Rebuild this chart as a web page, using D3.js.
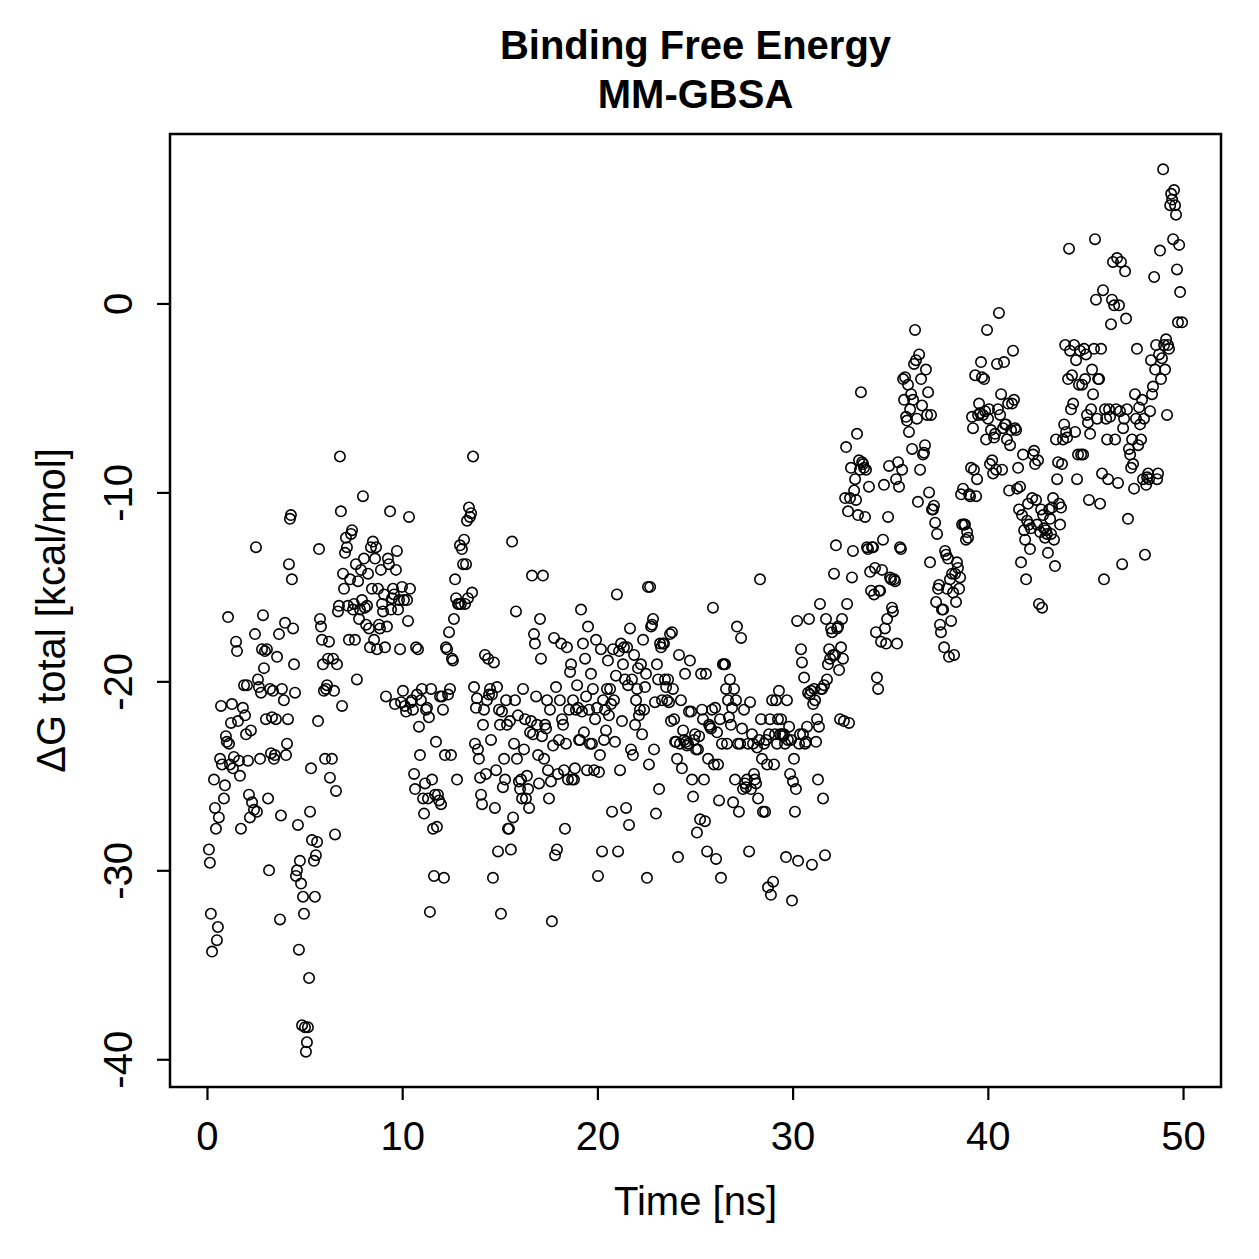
<!DOCTYPE html>
<html>
<head>
<meta charset="utf-8">
<script src="https://cdn.jsdelivr.net/npm/d3@7"></script>
<style>
  body { margin: 0; background: #fff; }
  text { font-family: "Liberation Sans", Arial, Helvetica, sans-serif; }
</style>
</head>
<body>
<div id="chart"></div>
<script>
const titleLines = ["Binding Free Energy", "MM-GBSA"];
const xLabel = "Time [ns]";
const yLabel = "\u0394G total [kcal/mol]";
const xTicks = [0, 10, 20, 30, 40, 50];
const yTicks = [0, -10, -20, -30, -40];

// simulation time (ns)
const time = [
  0.10,0.15,0.20,0.26,
  0.36,0.41,0.46,0.51,0.56,0.61,0.67,0.72,0.77,
  0.87,0.92,0.97,1.02,1.08,1.13,1.18,1.23,1.28,1.33,1.38,
  1.49,1.54,1.59,1.64,1.69,1.74,
  1.84,1.90,1.95,2.00,2.05,2.10,2.15,2.20,2.25,2.31,
  2.41,2.46,2.51,2.56,2.61,2.66,2.72,2.77,2.82,2.87,2.92,2.97,3.02,3.07,3.13,3.18,3.23,3.28,3.33,3.38,3.43,3.48,3.53,3.59,
  3.69,3.74,3.79,3.84,
  3.94,4.00,4.05,4.10,4.15,4.20,4.25,4.30,4.35,4.41,4.46,4.51,4.56,4.61,4.66,4.71,4.76,4.82,4.87,4.92,4.97,5.02,5.07,5.12,5.17,5.23,5.28,5.33,5.38,
  5.48,5.53,5.58,5.64,5.69,5.74,5.79,5.84,5.89,5.94,5.99,6.05,6.10,6.15,6.20,6.25,6.30,
  6.40,
  6.46,6.51,6.56,6.61,
  6.66,6.71,6.76,6.81,6.86,6.92,6.97,7.02,7.07,7.12,
  7.17,7.22,7.27,7.33,7.38,7.43,7.48,7.53,7.58,7.63,
  7.68,7.74,7.79,7.84,7.89,7.94,7.99,8.04,8.09,8.15,
  8.20,8.25,8.30,8.35,8.40,8.45,8.50,8.56,8.61,8.66,
  8.71,8.76,8.81,8.86,8.91,8.97,9.02,9.07,9.12,9.17,
  9.22,9.27,9.32,9.38,9.43,9.48,9.53,9.58,9.63,9.68,
  9.73,9.79,9.84,9.89,9.94,9.99,10.04,10.09,10.14,10.20,
  10.25,10.30,10.35,10.40,10.45,10.50,10.55,10.61,10.66,10.71,
  10.76,10.81,10.86,10.91,10.96,11.01,11.07,11.12,11.17,11.22,
  11.27,11.32,11.37,11.42,11.48,11.53,11.58,11.63,11.68,11.73,
  11.78,11.83,11.89,11.94,11.99,12.04,12.09,12.14,12.19,12.24,
  12.30,12.35,12.40,12.45,12.50,12.55,12.60,12.65,12.71,12.76,
  12.81,12.86,12.91,12.96,13.01,13.06,13.12,13.17,13.22,13.27,
  13.32,13.37,13.42,13.47,13.53,13.58,13.63,13.68,13.73,13.78,
  13.83,13.88,13.93,13.99,14.04,14.09,14.14,14.19,14.24,14.29,
  14.34,14.40,14.45,14.50,14.55,14.60,14.65,14.70,14.75,14.81,
  14.86,14.91,14.96,15.01,15.06,15.11,15.16,15.22,15.27,15.32,
  15.37,15.42,15.47,15.52,15.57,15.63,15.68,15.73,15.78,15.83,
  15.88,15.93,15.98,16.04,16.09,16.14,16.19,16.24,16.29,16.34,
  16.39,16.45,16.50,16.55,16.60,16.65,16.70,16.75,16.80,16.86,
  16.91,16.96,17.01,17.06,17.11,17.16,17.21,17.27,17.32,17.37,
  17.42,17.47,17.52,17.57,17.62,17.67,17.73,17.78,17.83,17.88,
  17.93,17.98,18.03,18.08,18.14,18.19,18.24,18.29,18.34,18.39,
  18.44,18.49,18.55,18.60,18.65,18.70,18.75,18.80,18.85,18.90,
  18.96,19.01,19.06,19.11,19.16,19.21,19.26,19.31,19.37,19.42,
  19.47,19.52,19.57,19.62,19.67,19.72,19.77,19.83,19.88,19.93,
  19.98,20.03,20.08,20.13,20.18,20.24,20.29,20.34,20.39,20.44,
  20.49,20.54,20.59,20.65,20.70,20.75,20.80,20.85,20.90,20.95,
  21.00,21.06,21.11,21.16,21.21,21.26,21.31,21.36,21.41,21.47,
  21.52,21.57,21.62,21.67,21.72,21.77,21.82,21.88,21.93,21.98,
  22.03,22.08,22.13,22.18,22.23,22.29,22.34,22.39,22.44,22.49,
  22.54,22.59,22.64,22.70,22.75,22.80,22.85,22.90,22.95,23.00,
  23.05,23.11,23.16,23.21,23.26,23.31,23.36,23.41,23.46,23.52,
  23.57,23.62,23.67,23.72,23.77,23.82,23.87,23.93,23.98,24.03,
  24.08,24.13,24.18,24.23,24.28,24.33,24.39,24.44,24.49,24.54,
  24.59,24.64,24.69,24.74,24.80,24.85,24.90,24.95,25.00,25.05,
  25.10,25.15,25.21,25.26,25.31,25.36,25.41,25.46,25.51,25.56,
  25.62,25.67,25.72,25.77,25.82,25.87,25.92,25.97,26.03,26.08,
  26.13,26.18,26.23,26.28,26.33,26.38,26.43,26.49,26.54,26.59,
  26.64,26.69,26.74,26.79,26.84,26.90,26.95,27.00,27.05,27.10,
  27.15,27.20,27.25,27.31,27.36,27.41,27.46,27.51,27.56,27.61,
  27.66,27.72,27.77,27.82,27.87,27.92,27.97,28.02,28.07,28.13,
  28.18,28.23,28.28,28.33,28.38,28.43,28.48,28.54,28.59,28.64,
  28.69,28.74,28.79,28.84,28.89,28.95,29.00,29.05,29.10,29.15,
  29.20,29.25,29.30,29.36,29.41,29.46,29.51,29.56,29.61,29.66,
  29.71,29.76,29.82,29.87,29.92,29.97,30.02,30.07,30.12,30.17,
  30.23,30.28,30.33,30.38,30.43,30.48,30.53,30.59,30.64,30.69,
  30.74,30.79,30.84,30.89,30.94,30.99,31.05,31.10,31.15,31.20,
  31.25,31.30,31.35,31.40,31.46,31.51,31.56,31.61,31.66,31.71,
  31.76,31.81,31.87,31.92,31.97,32.02,32.07,32.12,32.17,32.22,
  32.28,32.33,32.38,32.43,32.48,32.53,32.58,32.63,32.69,32.74,
  32.79,32.84,32.89,32.94,32.99,33.04,33.09,33.15,33.20,33.25,
  33.30,33.35,33.40,33.45,33.50,33.56,33.61,33.66,33.71,33.76,
  33.81,33.86,33.91,33.97,34.02,34.07,34.12,34.17,34.22,34.27,
  34.32,34.38,34.43,34.48,34.53,34.58,34.63,34.68,34.73,34.79,
  34.84,34.89,34.94,34.99,35.04,35.09,35.14,35.20,35.25,35.30,
  35.35,35.40,35.45,35.50,35.55,35.61,35.66,35.71,35.76,35.81,
  35.86,35.91,35.96,36.02,36.07,36.12,36.17,36.22,36.27,36.32,
  36.37,36.42,36.48,36.53,36.58,36.63,36.68,36.73,36.78,36.83,
  36.89,36.94,36.99,37.04,37.09,37.14,37.19,37.24,37.30,37.35,
  37.40,37.45,37.50,37.55,37.60,37.65,37.71,37.76,37.81,37.86,
  37.91,37.96,38.01,38.06,38.12,38.17,38.22,38.27,38.32,38.37,
  38.42,38.47,38.53,38.58,38.63,38.68,38.73,38.78,38.83,38.88,
  38.94,38.99,39.04,39.09,39.14,39.19,39.24,39.29,39.35,39.40,
  39.45,39.50,39.55,39.60,39.65,39.70,39.75,39.81,39.86,39.91,
  39.96,40.01,40.06,40.11,40.16,40.22,40.27,40.32,40.37,40.42,
  40.47,40.52,40.57,40.63,40.68,40.73,40.78,40.83,40.88,40.93,
  40.98,41.04,41.09,41.14,41.19,41.24,41.29,41.34,41.39,41.45,
  41.50,41.55,41.60,41.65,41.70,41.75,41.80,41.86,41.91,41.96,
  42.01,42.06,42.11,42.16,42.21,42.27,42.32,42.37,42.42,42.47,
  42.52,42.57,42.62,42.68,42.73,42.78,42.83,42.88,42.93,42.98,
  43.03,43.08,43.14,43.19,43.24,43.29,43.34,43.39,43.44,43.49,
  43.55,43.60,43.65,43.70,43.75,43.80,43.85,43.91,43.96,44.01,
  44.06,44.11,44.16,44.21,44.26,44.31,44.37,44.42,44.47,44.52,
  44.57,44.62,44.67,44.72,44.78,44.83,44.88,44.93,44.98,45.03,
  45.08,45.13,45.18,45.24,45.29,45.34,45.39,45.44,45.49,45.54,
  45.60,45.65,45.70,45.75,45.80,45.85,45.90,45.95,46.00,46.06,
  46.11,46.16,46.21,46.26,46.31,46.36,46.41,46.47,46.52,46.57,
  46.62,46.67,46.72,46.77,46.82,46.88,46.93,46.98,47.03,47.08,
  47.13,47.18,47.23,47.29,47.34,47.39,47.44,47.49,47.54,47.59,
  47.64,47.70,47.75,47.80,47.85,47.90,47.95,48.00,48.05,48.11,
  48.16,48.21,48.26,48.31,48.36,48.41,48.46,48.52,48.57,48.62,
  48.67,48.72,48.77,48.82,48.87,48.92,48.98,49.03,49.08,49.13,
  49.18,49.23,49.28,49.34,49.39,49.44,49.49,49.54,49.59,49.64,
  49.69,49.74,49.80,49.85,49.95
];

// total binding free energy (kcal/mol), same order as time
const dG = [
  -28.9,-29.6,-32.3,-34.3,
  -25.2,-26.7,-27.8,-33.7,-33.0,-27.2,-24.1,-21.3,-24.4,
  -26.2,-25.5,-22.9,-23.2,-16.6,-23.3,-24.4,-22.2,-21.2,-24.6,-24.0,
  -17.9,-18.4,-22.1,-24.2,-25.0,-27.8,
  -21.4,-20.2,-21.8,-22.8,-20.2,-24.2,-26.0,-27.2,-22.6,-26.4,
  -26.8,-17.5,-12.9,-26.9,-19.9,-20.3,-24.1,-20.6,-18.3,-16.5,-19.3,-18.4,-22.0,-18.3,-26.2,-30.0,-20.4,-23.8,-21.9,-20.5,-24.1,-23.9,-22.0,-18.7,
  -17.5,-32.6,-27.1,-20.4,
  -21.0,-16.9,-23.9,-23.3,-22.0,-13.8,-11.4,-11.2,-14.6,-17.2,-19.1,-20.6,-30.3,-30.0,-27.6,-34.2,-29.5,-30.7,-38.2,-31.4,-32.3,-38.3,-39.6,-39.1,-38.3,-35.7,-26.9,-24.6,-28.4,
  -29.5,-31.4,-29.2,-28.5,-22.1,-13.0,-16.7,-17.1,-17.8,-19.1,-20.5,-24.1,-20.4,-20.2,-18.8,-17.9,-25.1,
  -24.1,
  -18.8,-20.5,-28.1,-25.8,
  -19.1,-16.3,-16.0,-8.1,-11.0,-21.3,-14.3,-15.1,-13.2,-12.4,
  -12.9,-16.0,-17.8,-14.6,-12.2,-12.0,-16.2,-15.9,-17.8,-13.8,
  -19.9,-14.7,-16.7,-16.2,-14.1,-15.7,-10.2,-13.5,-16.1,-17.0,
  -16.0,-14.3,-17.2,-18.2,-12.9,-15.1,-12.6,-17.8,-13.5,-12.9,
  -18.3,-15.1,-17.0,-17.2,-14.1,-15.9,-16.3,-15.4,-18.2,-20.8,
  -17.1,-13.5,-13.8,-11.0,-16.2,-15.6,-15.1,-15.4,-21.2,-14.1,
  -13.1,-16.2,-15.7,-18.3,-21.1,-15.0,-20.5,-15.7,-21.3,-21.6,
  -15.7,-16.8,-11.3,-15.1,-21.1,-21.0,-21.5,-24.9,-25.7,-18.2,
  -20.7,-18.3,-22.4,-23.9,-21.0,-20.4,-26.2,-27.0,-25.4,-21.5,
  -21.4,-26.2,-21.9,-32.2,-20.4,-25.2,-27.8,-30.3,-26.0,-23.2,
  -27.7,-26.0,-26.3,-20.8,-26.5,-20.8,-21.5,-30.4,-23.9,-18.2,
  -18.3,-20.7,-17.4,-20.4,-23.9,-18.8,-18.9,-16.7,-14.6,-15.6,
  -25.2,-15.9,-15.9,-12.8,-15.9,-13.0,-13.8,-12.5,-15.9,-13.8,
  -11.5,-15.6,-10.8,-11.3,-11.1,-15.3,-8.1,-20.3,-23.3,-21.4,
  -20.9,-23.6,-24.1,-25.1,-26.0,-26.5,-22.3,-21.5,-18.6,-24.9,
  -21.0,-18.8,-20.7,-20.4,-23.1,-20.7,-30.4,-19.0,-26.7,-24.7,
  -20.3,-29.0,-21.5,-22.3,-32.3,-21.6,-25.6,-24.1,-25.2,-21.0,
  -22.3,-27.8,-27.8,-22.1,-28.9,-12.6,-27.2,-23.3,-21.0,-16.3,
  -24.1,-21.8,-25.3,-25.7,-25.2,-26.2,-20.4,-23.6,-22.0,-26.2,
  -25.0,-25.7,-26.7,-22.7,-22.1,-14.4,-22.8,-17.5,-18.0,-20.8,
  -22.3,-23.9,-25.4,-16.7,-18.8,-22.9,-14.4,-24.1,-22.3,-22.5,
  -21.0,-24.7,-26.2,-21.5,-25.3,-32.7,-23.4,-17.7,-29.2,-20.3,
  -28.9,-24.9,-23.1,-21.0,-18.0,-22.0,-22.3,-24.7,-27.8,-23.3,
  -18.2,-25.2,-21.5,-19.5,-19.1,-25.2,-21.0,-25.2,-24.6,-21.5,
  -20.2,-21.4,-23.1,-23.1,-16.2,-21.6,-18.0,-22.7,-18.8,-20.8,
  -24.7,-17.1,-21.5,-23.3,-19.6,-23.3,-20.4,-24.7,-22.0,-17.8,
  -21.4,-30.3,-24.8,-23.9,-18.3,-29.0,-21.0,-23.1,-21.5,-22.6,
  -20.4,-18.9,-21.8,-20.4,-21.2,-26.9,-18.3,-21.0,-23.2,-19.7,
  -15.4,-29.0,-18.4,-24.7,-18.0,-22.1,-19.1,-18.2,-19.9,-26.7,
  -18.2,-20.2,-27.6,-17.2,-23.6,-19.9,-23.9,-18.6,-22.3,-21.0,
  -20.4,-19.3,-21.8,-21.5,-19.1,-22.8,-17.8,-21.5,-20.3,-19.6,
  -30.4,-15.0,-24.4,-15.0,-17.1,-17.0,-16.7,-23.6,-21.1,-27.0,
  -19.1,-19.9,-25.7,-18.0,-18.2,-21.0,-18.0,-18.0,-19.9,-20.3,
  -21.0,-19.9,-21.1,-17.5,-22.1,-17.4,-20.4,-22.0,-23.2,-23.2,
  -24.1,-29.3,-18.6,-23.3,-21.0,-24.6,-22.6,-23.1,-19.6,-23.2,
  -23.4,-23.3,-21.6,-18.9,-21.6,-25.2,-26.1,-23.1,-22.8,-23.6,
  -28.0,-23.6,-22.9,-27.3,-19.6,-21.5,-22.0,-25.2,-27.4,-19.6,
  -29.0,-24.1,-22.3,-22.4,-22.5,-21.5,-16.1,-24.4,-21.4,-29.4,
  -22.7,-24.4,-26.3,-22.0,-30.4,-23.3,-19.1,-19.1,-19.1,-20.4,
  -23.3,-21.0,-21.9,-19.9,-22.3,-21.4,-26.4,-20.4,-25.2,-21.0,
  -17.1,-23.3,-26.9,-23.3,-17.7,-22.5,-25.7,-21.5,-25.4,-25.6,
  -25.2,-23.3,-29.0,-21.1,-25.7,-22.8,-23.3,-24.9,-25.2,-25.4,
  -23.5,-26.2,-23.1,-14.6,-22.0,-24.1,-26.9,-23.3,-26.9,-23.1,
  -24.4,-30.9,-22.8,-22.0,-31.3,-21.0,-30.6,-24.4,-22.8,-21.0,
  -23.3,-22.0,-20.5,-22.8,-22.0,-22.8,-22.9,-22.8,-23.3,-29.3,
  -21.0,-23.1,-22.4,-24.9,-23.1,-31.6,-25.3,-24.1,-26.9,-25.7,
  -16.8,-29.5,-23.3,-22.8,-18.3,-19.0,-22.8,-19.8,-23.3,-23.2,
  -22.4,-20.6,-16.7,-20.7,-20.5,-29.7,-21.2,-20.4,-21.0,-23.2,
  -22.0,-25.2,-22.4,-15.9,-20.4,-20.4,-26.2,-20.2,-29.2,-16.7,
  -19.9,-19.1,-18.3,-18.8,-17.2,-17.4,-18.6,-14.3,-18.6,-12.8,
  -17.2,-17.1,-19.4,-22.0,-18.2,-16.7,-18.8,-22.1,-10.3,-7.6,
  -15.9,-11.0,-22.2,-10.3,-8.7,-14.5,-13.1,-9.9,-9.3,-10.4,
  -6.9,-11.2,-8.3,-8.8,-4.7,-8.4,-8.5,-8.7,-11.3,-8.8,
  -12.9,-13.0,-9.7,-14.2,-15.2,-12.9,-12.9,-15.4,-14.0,-17.4,
  -19.8,-20.4,-15.2,-15.2,-17.9,-14.1,-12.5,-9.6,-17.2,-18.0,
  -16.7,-11.3,-8.6,-14.5,-14.6,-16.1,-16.3,-14.6,-14.7,-9.3,
  -18.0,-8.4,-9.7,-12.9,-13.0,-8.8,-4.0,-5.1,-3.9,-6.0,
  -6.2,-4.3,-6.8,-5.6,-4.8,-7.7,-5.1,-3.2,-1.4,-3.0,
  -6.1,-10.5,-2.7,-8.8,-4.0,-5.4,-8.0,-7.9,-7.5,-3.5,
  -5.9,-4.7,-10.0,-13.7,-5.9,-10.9,-10.9,-10.7,-11.6,-15.8,
  -12.2,-15.1,-14.9,-17.0,-17.4,-16.2,-16.2,-18.2,-13.1,-13.3,
  -15.1,-13.5,-18.7,-14.6,-16.8,-14.3,-15.3,-18.6,-14.3,-15.8,
  -13.7,-14.0,-15.1,-14.5,-10.1,-11.7,-9.8,-11.7,-11.7,-12.5,
  -12.1,-12.4,-10.1,-10.2,-8.7,-6.0,-6.6,-8.8,-3.8,-10.2,
  -9.3,-5.9,-5.3,-5.8,-3.1,-3.9,-5.9,-4.0,-5.7,-7.2,
  -1.4,-6.1,-5.6,-8.5,-6.7,-8.3,-9.0,-7.1,-6.9,-8.8,
  -3.2,-5.6,-0.5,-5.9,-4.8,-8.8,-6.6,-3.1,-6.4,-6.4,
  -7.2,-5.3,-9.9,-7.5,-6.7,-5.3,-2.5,-5.1,-6.6,-6.7,
  -9.8,-8.7,-10.9,-9.7,-13.7,-11.2,-8.0,-12.0,-12.5,-14.6,
  -11.5,-10.6,-11.7,-13.0,-11.9,-10.3,-8.0,-7.8,-8.5,-10.4,
  -11.7,-8.3,-15.9,-12.1,-10.9,-16.1,-11.2,-11.9,-12.4,-12.0,
  -12.2,-13.2,-10.9,-11.4,-12.2,-10.8,-10.3,-12.5,-13.9,-7.2,
  -9.3,-8.4,-10.6,-11.7,-10.8,-8.5,-7.2,-6.4,-2.2,-6.8,
  -7.1,-4.0,2.9,-2.5,-5.6,-3.8,-5.3,-2.2,-6.8,-3.0,
  -9.3,-8.0,-4.3,-2.5,-8.0,-4.3,-8.0,-2.4,-4.0,-2.7,
  -5.9,-6.3,-10.4,-6.9,-5.6,-3.5,-4.8,-2.4,3.4,0.2,
  -6.1,-4.0,-4.0,-10.6,-2.4,-9.0,0.7,-14.6,-5.6,-6.1,
  -7.2,-9.3,-5.6,-6.0,-1.1,0.2,2.2,-0.1,-7.2,-5.6,
  2.4,-9.5,-0.1,-5.7,2.2,-13.8,-6.6,-6.1,1.7,-0.8,
  -5.6,-11.4,-7.7,-8.0,-8.7,-7.2,-8.5,-9.8,-4.8,-6.1,
  -2.4,-7.5,-5.5,-6.4,-7.2,-5.1,-9.3,-6.1,-13.3,-9.6,
  -9.2,-9.0,-9.3,-5.7,-3.0,-4.8,-4.4,1.4,-3.5,-2.2,
  -9.3,-9.0,-2.7,2.8,-4.0,-2.9,7.1,-2.2,-3.5,-1.9,
  -5.9,-2.2,-2.4,5.2,5.8,5.5,3.4,6.0,5.2,4.7,
  1.8,-1.0,3.1,0.6,-1.0
];

const width = 1259, height = 1259;
const box = { left: 170, top: 134, right: 1221, bottom: 1087 };
const fontSize = 40;

// R-style axis range: data extent widened by 4% on each side
function padRange(ext) {
  const d = (ext[1] - ext[0]) * 0.04;
  return [ext[0] - d, ext[1] + d];
}

const points = time.map((t, i) => ({ t: t, g: dG[i] })).filter(p => p.g !== undefined);

const xScale = d3.scaleLinear().domain(padRange(d3.extent(time))).range([box.left, box.right]);
const yScale = d3.scaleLinear().domain(padRange(d3.extent(dG))).range([box.bottom, box.top]);

const svg = d3.select("#chart").append("svg")
  .attr("width", width)
  .attr("height", height);

svg.append("rect")
  .attr("width", width)
  .attr("height", height)
  .attr("fill", "#fff");

// points
svg.append("g")
  .selectAll("circle")
  .data(points)
  .enter()
  .append("circle")
  .attr("cx", d => xScale(d.t))
  .attr("cy", d => yScale(d.g))
  .attr("r", 5.2)
  .attr("fill", "none")
  .attr("stroke", "#000")
  .attr("stroke-width", 1.6);

// x axis
const xAxis = svg.append("g")
  .attr("transform", "translate(0," + box.bottom + ")")
  .call(d3.axisBottom(xScale).tickValues(xTicks).tickSize(13).tickSizeOuter(0).tickPadding(22)
    .tickFormat(d => String(d)));
xAxis.select(".domain").remove();
xAxis.selectAll("line").attr("stroke", "#000").attr("stroke-width", 2.2);
xAxis.selectAll("text").attr("font-size", fontSize).attr("fill", "#000");

// y axis, labels turned like R's las=0
const yAxis = svg.append("g")
  .attr("transform", "translate(" + box.left + ",0)")
  .call(d3.axisLeft(yScale).tickValues(yTicks).tickSize(13).tickSizeOuter(0)
    .tickFormat(d => String(d)));
yAxis.select(".domain").remove();
yAxis.selectAll("line").attr("stroke", "#000").attr("stroke-width", 2.2);
yAxis.selectAll("text")
  .attr("font-size", fontSize)
  .attr("fill", "#000")
  .attr("x", 0)
  .attr("y", -38)
  .attr("dy", null)
  .attr("text-anchor", "middle")
  .attr("transform", "rotate(-90)");

// plot frame
svg.append("rect")
  .attr("x", box.left)
  .attr("y", box.top)
  .attr("width", box.right - box.left)
  .attr("height", box.bottom - box.top)
  .attr("fill", "none")
  .attr("stroke", "#000")
  .attr("stroke-width", 2.5);

const cx = (box.left + box.right) / 2;

svg.append("g")
  .selectAll("text")
  .data(titleLines)
  .enter()
  .append("text")
  .attr("x", cx)
  .attr("y", (d, i) => 59 + i * 49)
  .attr("text-anchor", "middle")
  .attr("font-size", fontSize)
  .attr("font-weight", "bold")
  .text(d => d);

svg.append("text")
  .attr("x", cx)
  .attr("y", 1215)
  .attr("text-anchor", "middle")
  .attr("font-size", fontSize)
  .text(xLabel);

svg.append("text")
  .attr("transform", "translate(65," + (box.top + box.bottom) / 2 + ") rotate(-90)")
  .attr("text-anchor", "middle")
  .attr("font-size", fontSize)
  .text(yLabel);
</script>
</body>
</html>
